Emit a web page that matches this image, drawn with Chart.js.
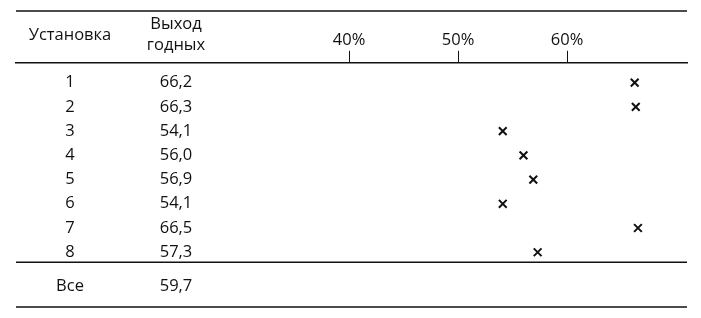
<!DOCTYPE html>
<html>
<head>
<meta charset="utf-8">
<script src="https://cdn.jsdelivr.net/npm/chart.js@4"></script>
<style>
  html, body { margin: 0; padding: 0; background: #fff; }
  #wrap { width: 701px; height: 318px; }
</style>
</head>
<body>
<div id="wrap"><canvas id="yieldChart" width="701" height="318"></canvas></div>
<script>
const machines = ["1", "2", "3", "4", "5", "6", "7", "8"];
const yields = [66.2, 66.3, 54.1, 56.0, 56.9, 54.1, 66.5, 57.3];
const totalLabel = "Все";
const totalYield = 59.7;
const tickValues = [40, 50, 60];
const colHeaders = ["Установка", ["Выход", "годных"]];

const FONT = "'Open Sans', 'Noto Sans', sans-serif";
const INK = "#111";
const colX = [70, 176];

function fmt(v) {
  return v.toFixed(1).replace(".", ",");
}

const tablePlugin = {
  id: "tablePlugin",
  afterDraw(chart) {
    const ctx = chart.ctx;
    const area = chart.chartArea;
    const y = chart.scales.y;
    ctx.save();
    ctx.fillStyle = INK;
    ctx.font = "16.5px " + FONT;
    ctx.textAlign = "center";
    ctx.textBaseline = "middle";

    // header
    const hy = 35;
    ctx.fillText(colHeaders[0], colX[0], hy);
    ctx.fillText(colHeaders[1][0], colX[1], hy - 11);
    ctx.fillText(colHeaders[1][1], colX[1], hy + 10);

    // rows
    machines.forEach((m, i) => {
      const py = y.getPixelForValue(i + 1);
      ctx.fillText(m, colX[0], py);
      ctx.fillText(fmt(yields[i]), colX[1], py);
    });
    const ty = y.getPixelForValue(9.4);
    ctx.fillText(totalLabel, colX[0], ty);
    ctx.fillText(fmt(totalYield), colX[1], ty);

    // rules
    ctx.strokeStyle = INK;
    ctx.lineWidth = 1.5;
    [11, y.getPixelForValue(8.41), area.bottom].forEach((ly) => {
      ctx.beginPath();
      ctx.moveTo(area.left, ly);
      ctx.lineTo(area.right, ly);
      ctx.stroke();
    });
    ctx.restore();
  },
};

new Chart(document.getElementById("yieldChart"), {
  type: "scatter",
  data: {
    datasets: [
      {
        data: yields.map((v, i) => ({ x: v, y: i + 1 })),
        pointStyle: "crossRot",
        radius: 5.5,
        borderWidth: 2,
        borderColor: INK,
        backgroundColor: INK,
      },
    ],
  },
  options: {
    responsive: false,
    animation: false,
    events: [],
    layout: { padding: { left: 16, right: 14, top: 29, bottom: 11 } },
    plugins: { legend: { display: false }, tooltip: { enabled: false } },
    scales: {
      x: {
        type: "linear",
        position: "top",
        min: 9.45,
        max: 71.0,
        afterBuildTicks: (axis) => {
          axis.ticks = tickValues.map((v) => ({ value: v }));
        },
        grid: {
          drawOnChartArea: false,
          drawTicks: true,
          tickLength: 12,
          color: INK,
          lineWidth: 1,
        },
        border: { display: true, color: INK, width: 1.5 },
        ticks: {
          color: INK,
          font: { family: FONT, size: 16.5 },
          padding: 1,
          maxRotation: 0,
          callback: (v) => v + "%",
        },
      },
      y: {
        type: "linear",
        display: false,
        reverse: true,
        min: 0.18,
        max: 10.26,
      },
    },
  },
  plugins: [tablePlugin],
});
</script>
</body>
</html>
